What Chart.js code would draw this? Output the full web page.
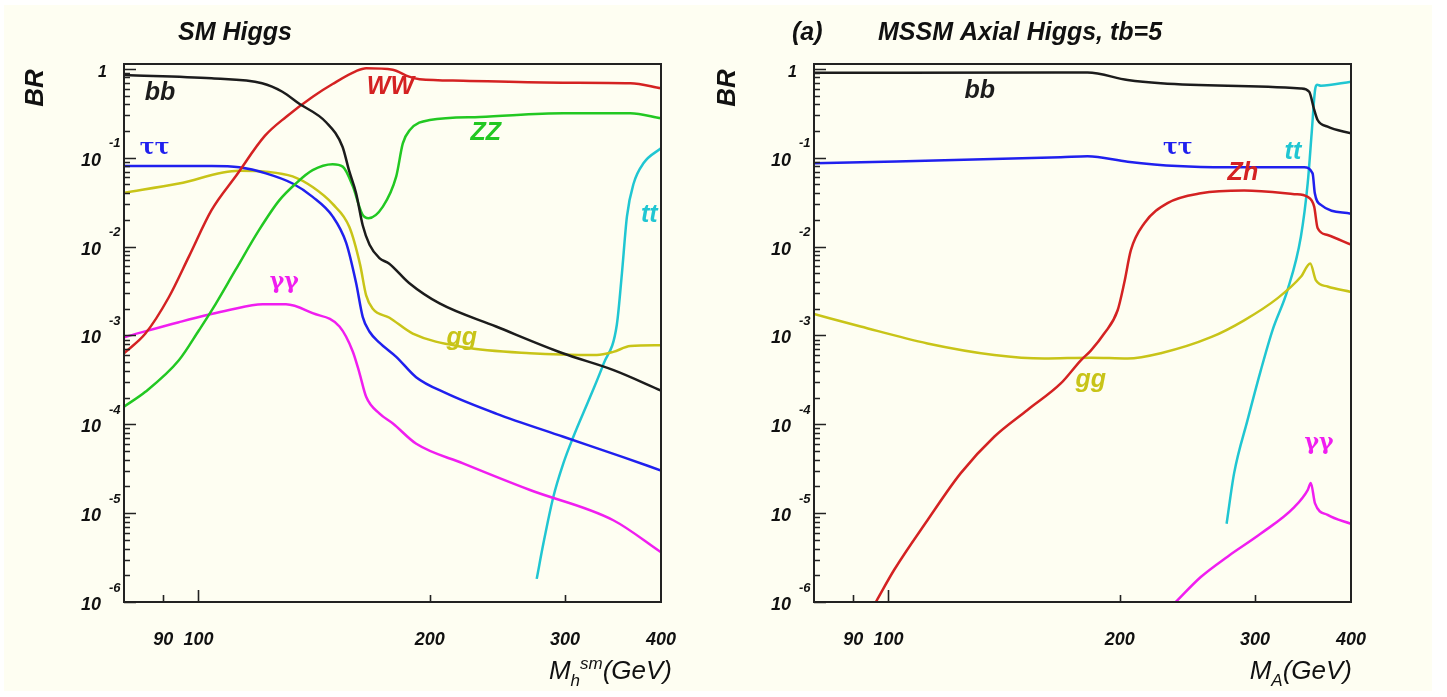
<!DOCTYPE html>
<html>
<head>
<meta charset="utf-8">
<title>Higgs branching ratios</title>
<script src="https://cdn.jsdelivr.net/npm/chart.js@4.4.1/dist/chart.umd.min.js"></script>
<style>
  html, body { margin: 0; padding: 0; background: #ffffff; }
  #page { position: relative; width: 1447px; height: 697px; overflow: hidden; }
  #paper { position: absolute; left: 4px; top: 5px; width: 1428px; height: 686px; background: #fefef2; }
  .panel { position: absolute; top: 0; height: 697px; }
  #sm-wrap { left: 0; width: 720px; }
  #mssm-wrap { left: 700px; width: 747px; }
</style>
</head>
<body>
<div id="page">
  <div id="paper"></div>
  <div class="panel" id="sm-wrap"><canvas id="sm-chart"></canvas></div>
  <div class="panel" id="mssm-wrap"><canvas id="mssm-chart"></canvas></div>
</div>

<script>
// ---- axis ticks ----
const massMin = 80;
const massMax = 400;
const brMin = 1e-6;
const brMax = 1.135;
const xTickValues = [90, 100, 200, 300, 400];
const xTickLabels = ['90', '100', '200', '300', '400'];
const yDecades = [0, -1, -2, -3, -4, -5, -6];

// ---- SM Higgs (left panel), mass in GeV, BR ----
const smBbMass = [80, 104, 121, 128.6, 135, 146.6, 154, 157, 160.4, 163.6, 167, 172, 177, 188, 206, 244, 298, 347, 400];
const smBb = [0.853, 0.783, 0.689, 0.553, 0.41, 0.251, 0.133, 0.0724, 0.0398, 0.0174, 0.0105, 0.00741, 0.00646, 0.00389, 0.00229, 0.00126, 0.00063, 0.000407, 0.00024];

const smWwMass = [80, 85.3, 91.5, 97.2, 104, 112, 122, 130, 141, 149.5, 160.4, 165.3, 179, 188, 194, 221, 298, 365, 400];
const smWw = [0.000631, 0.00105, 0.00269, 0.00776, 0.0257, 0.0631, 0.176, 0.288, 0.49, 0.676, 0.944, 1.016, 0.977, 0.817, 0.764, 0.736, 0.70, 0.689, 0.605];

const smZzMass = [80, 85.3, 94.3, 100.2, 104.2, 111.8, 120, 127.4, 133.9, 140.8, 149.5, 154.1, 158.8, 163.3, 166.5, 173.8, 180.9, 184.5, 188.3, 200, 232.3, 298.5, 364.8, 400];
const smZz = [0.000158, 0.000232, 0.000525, 0.00115, 0.00195, 0.0055, 0.0155, 0.0331, 0.0513, 0.0724, 0.0843, 0.0794, 0.0479, 0.0234, 0.0209, 0.0282, 0.0617, 0.145, 0.204, 0.266, 0.288, 0.316, 0.316, 0.278];

const smTauMass = [80, 104, 113, 122.4, 132.6, 140.8, 149.5, 155.7, 160.4, 163.6, 167, 172, 180.9, 192, 210, 244, 298.5, 357, 400];
const smTau = [0.0807, 0.0807, 0.078, 0.0667, 0.0513, 0.0363, 0.0219, 0.011, 0.00389, 0.00162, 0.0011, 0.00083, 0.000575, 0.000339, 0.000224, 0.000132, 0.0000724, 0.0000427, 0.0000302];

const smGgMass = [80, 94.3, 112.9, 122.4, 132.6, 140.8, 149.5, 157.2, 162.3, 165.3, 168.6, 177.3, 190.1, 221, 270.1, 330, 346.7, 364.8, 400];
const smGg = [0.0404, 0.0513, 0.0714, 0.0697, 0.0617, 0.0468, 0.0302, 0.0166, 0.00631, 0.00282, 0.002, 0.00158, 0.00105, 0.000741, 0.000631, 0.000603, 0.000653, 0.000759, 0.000776];

const smGamMass = [80, 94.3, 109.6, 121.2, 130, 140.8, 152.6, 158.8, 162, 165.3, 172.1, 179.1, 192.1, 221, 270.1, 346.7, 400];
const smGam = [0.000955, 0.00141, 0.00193, 0.00224, 0.00224, 0.00178, 0.00126, 0.000661, 0.00038, 0.000204, 0.000132, 0.000102, 0.0000603, 0.0000363, 0.0000182, 0.00000832, 0.00000363];

const smTopMass = [275.6, 281.2, 289.6, 298.5, 307.6, 323.5, 336.7, 350.4, 355.8, 361.2, 368.5, 379.7, 400];
const smTop = [0.00000182, 0.00000457, 0.0000151, 0.0000363, 0.0000724, 0.000204, 0.000479, 0.00132, 0.00501, 0.0219, 0.0513, 0.0871, 0.128];

// ---- MSSM axial Higgs, tan(beta)=5 (right panel) ----
const aBbMass = [80, 167.6, 181.6, 204.8, 226.2, 276.3, 344.2, 352.9, 358.2, 361.9, 372.9, 400];
const aBb = [0.902, 0.908, 0.908, 0.75, 0.689, 0.646, 0.603, 0.553, 0.347, 0.266, 0.224, 0.188];

const aTauMass = [80, 167.6, 181.6, 204.8, 237.8, 276.3, 347.6, 356.5, 358.9, 365.5, 400];
const aTau = [0.0865, 0.101, 0.104, 0.0902, 0.0805, 0.078, 0.078, 0.0667, 0.0398, 0.0295, 0.0234];

const aZhMass = [96.3, 101.7, 112.4, 124.2, 137.3, 151.7, 167.6, 178, 183.4, 190.9, 198.7, 202.7, 206.8, 215.2, 230.8, 255, 290.4, 337.5, 351.3, 358.2, 361.9, 372.9, 400];
const aZh = [0.000001, 0.00000229, 0.00000832, 0.0000282, 0.0000724, 0.000145, 0.000288, 0.000525, 0.000676, 0.00105, 0.00191, 0.00389, 0.00912, 0.0182, 0.0309, 0.0398, 0.0427, 0.0389, 0.0363, 0.0282, 0.0162, 0.0135, 0.0105];

const aGgMass = [80, 92, 112.4, 137.3, 159.5, 183.4, 204.8, 226.2, 262.9, 290.4, 321.1, 344.2, 354, 360.1, 372.9, 400];
const aGg = [0.00174, 0.00126, 0.000813, 0.000603, 0.00055, 0.000562, 0.00055, 0.000631, 0.000955, 0.00148, 0.00263, 0.00457, 0.00646, 0.00417, 0.00355, 0.00309];

const aTopMass = [275.5, 281.8, 293.4, 305.3, 316.2, 330.7, 344.2, 351.3, 355.5, 359.1, 361.3, 365.5, 400];
const aTop = [0.00000759, 0.0000282, 0.000112, 0.000407, 0.00115, 0.00324, 0.0129, 0.0513, 0.188, 0.575, 0.661, 0.646, 0.718];

const aGamMass = [236.6, 255, 276.3, 305.3, 337.5, 351.3, 354.6, 359.1, 372.9, 400];
const aGam = [0.000001, 0.00000191, 0.00000324, 0.00000589, 0.0000117, 0.0000182, 0.0000219, 0.0000129, 0.00000955, 0.00000759];

// line colours
const colors = {
  bb: '#1c1c1c',
  ww: '#d42222',
  zz: '#22c822',
  tau: '#2020ee',
  gg: '#c8c418',
  gam: '#f01ef0',
  top: '#20c6d2'
};

const labelFont = 'italic bold 25px "Liberation Sans", Arial, sans-serif';
const greekFont = 'bold 22px "DejaVu Serif", serif';

function series(mass, br, color) {
  return {
    data: mass.map(function(m, i) { return { x: m, y: br[i] }; }),
    borderColor: color,
    borderWidth: 2.5,
    pointRadius: 0,
    fill: false,
    cubicInterpolationMode: 'monotone'
  };
}

// draws frame, inward ticks, tick labels, titles and curve labels
function makeDecor(panel) {
  return {
    id: 'higgsDecor',
    afterDatasetsDraw: function(chart) {
      const ctx = chart.ctx;
      const a = chart.chartArea;
      const xs = chart.scales.x;
      const ys = chart.scales.y;
      ctx.save();

      // frame
      ctx.strokeStyle = '#222';
      ctx.lineWidth = 2;
      ctx.strokeRect(a.left, a.top, a.right - a.left, a.bottom - a.top);

      // y ticks (1..9 x 10^n), pointing into the plot
      ctx.lineWidth = 1.6;
      ctx.beginPath();
      yDecades.forEach(function(n) {
        for (let m = 1; m <= 9; m++) {
          const v = m * Math.pow(10, n);
          if (v < brMin || v > brMax) continue;
          const py = Math.round(ys.getPixelForValue(v)) + 0.5;
          ctx.moveTo(a.left, py);
          ctx.lineTo(a.left + (m === 1 ? 12 : 6), py);
        }
      });
      // x ticks, pointing up
      xTickValues.forEach(function(v) {
        if (v >= massMax) return;
        const px = Math.round(xs.getPixelForValue(v)) + 0.5;
        ctx.moveTo(px, a.bottom);
        ctx.lineTo(px, a.bottom - (v === 100 ? 12 : 7));
      });
      ctx.stroke();

      // y tick labels
      ctx.fillStyle = '#111';
      yDecades.forEach(function(n) {
        const py = ys.getPixelForValue(Math.pow(10, n));
        if (n === 0) {
          ctx.font = 'italic bold 16px "Liberation Sans", Arial, sans-serif';
          ctx.textAlign = 'right';
          ctx.textBaseline = 'middle';
          ctx.fillText('1', a.left - 17, py + 4);
          return;
        }
        ctx.font = 'italic bold 18px "Liberation Sans", Arial, sans-serif';
        ctx.textAlign = 'right';
        ctx.textBaseline = 'middle';
        ctx.fillText('10', a.left - 23, py + 3);
        ctx.font = 'italic bold 13px "Liberation Sans", Arial, sans-serif';
        ctx.textAlign = 'left';
        ctx.fillText(String(n), a.left - 15, py - 14);
      });

      // x tick labels
      ctx.font = 'italic bold 18px "Liberation Sans", Arial, sans-serif';
      ctx.textAlign = 'center';
      ctx.textBaseline = 'middle';
      xTickValues.forEach(function(v, i) {
        ctx.fillText(xTickLabels[i], xs.getPixelForValue(v), a.bottom + 38);
      });

      // x axis title, right aligned, with sub/superscripts
      const parts = panel.xTitle;
      let width = 0;
      parts.forEach(function(p) { ctx.font = p.font; width += ctx.measureText(p.text).width; });
      let x = panel.xTitleRight - width;
      ctx.textAlign = 'left';
      ctx.textBaseline = 'alphabetic';
      parts.forEach(function(p) {
        ctx.font = p.font;
        ctx.fillText(p.text, x, 679 + p.dy);
        x += ctx.measureText(p.text).width;
      });

      // "BR" rotated
      ctx.save();
      ctx.translate(panel.brX, 88);
      ctx.rotate(-Math.PI / 2);
      ctx.font = 'italic bold 26px "Liberation Sans", Arial, sans-serif';
      ctx.textAlign = 'center';
      ctx.textBaseline = 'middle';
      ctx.fillText('BR', 0, 0);
      ctx.restore();

      // panel title
      ctx.font = 'italic bold 25px "Liberation Sans", Arial, sans-serif';
      ctx.textAlign = 'left';
      ctx.textBaseline = 'alphabetic';
      panel.titles.forEach(function(t) { ctx.fillText(t.text, t.x, 40); });

      // curve labels at data coordinates
      ctx.textAlign = 'center';
      ctx.textBaseline = 'middle';
      panel.labels.forEach(function(l) {
        ctx.font = l.greek ? greekFont : labelFont;
        ctx.fillStyle = l.color;
        ctx.fillText(l.text, xs.getPixelForValue(l.x), ys.getPixelForValue(l.y));
      });
      ctx.restore();
    }
  };
}

function makeChart(canvasId, datasets, padding, panel) {
  return new Chart(document.getElementById(canvasId), {
    type: 'line',
    data: { datasets: datasets },
    options: {
      responsive: true,
      maintainAspectRatio: false,
      animation: false,
      layout: { padding: padding },
      plugins: { legend: { display: false }, tooltip: { enabled: false } },
      scales: {
        x: { type: 'logarithmic', min: massMin, max: massMax, display: false },
        y: { type: 'logarithmic', min: brMin, max: brMax, display: false }
      }
    },
    plugins: [makeDecor(panel)]
  });
}

const titleFont = 'italic 26px "Liberation Sans", Arial, sans-serif';
const subFont = 'italic 17px "Liberation Sans", Arial, sans-serif';

makeChart('sm-chart', [
  series(smBbMass, smBb, colors.bb),
  series(smWwMass, smWw, colors.ww),
  series(smZzMass, smZz, colors.zz),
  series(smTauMass, smTau, colors.tau),
  series(smGgMass, smGg, colors.gg),
  series(smGamMass, smGam, colors.gam),
  series(smTopMass, smTop, colors.top)
], { left: 124, top: 64, right: 59, bottom: 95 }, {
  brX: 36,
  xTitleRight: 672,
  xTitle: [
    { text: 'M', font: titleFont, dy: 0 },
    { text: 'h', font: subFont, dy: 7 },
    { text: 'sm', font: subFont, dy: -10 },
    { text: '(GeV)', font: titleFont, dy: 0 }
  ],
  titles: [{ text: 'SM Higgs', x: 178 }],
  labels: [
    { text: 'bb', x: 89.1, y: 0.535, color: colors.bb },
    { text: '\u03c4\u03c4', x: 87.7, y: 0.129, color: colors.tau, greek: true },
    { text: 'WW', x: 177.8, y: 0.625, color: colors.ww },
    { text: 'ZZ', x: 236.6, y: 0.19, color: colors.zz },
    { text: 'tt', x: 386.3, y: 0.0226, color: colors.top },
    { text: 'gg', x: 220.2, y: 0.000933, color: colors.gg },
    { text: '\u03b3\u03b3', x: 129.3, y: 0.00398, color: colors.gam, greek: true }
  ]
});

makeChart('mssm-chart', [
  series(aBbMass, aBb, colors.bb),
  series(aTauMass, aTau, colors.tau),
  series(aZhMass, aZh, colors.ww),
  series(aGgMass, aGg, colors.gg),
  series(aGamMass, aGam, colors.gam),
  series(aTopMass, aTop, colors.top)
], { left: 114, top: 64, right: 96, bottom: 95 }, {
  brX: 28,
  xTitleRight: 652,
  xTitle: [
    { text: 'M', font: titleFont, dy: 0 },
    { text: 'A', font: subFont, dy: 7 },
    { text: '(GeV)', font: titleFont, dy: 0 }
  ],
  titles: [{ text: '(a)', x: 92 }, { text: 'MSSM Axial Higgs, tb=5', x: 178 }],
  labels: [
    { text: 'bb', x: 131.5, y: 0.564, color: colors.bb },
    { text: '\u03c4\u03c4', x: 238, y: 0.129, color: colors.tau, greek: true },
    { text: 'tt', x: 336.1, y: 0.116, color: colors.top },
    { text: 'Zh', x: 289.3, y: 0.0673, color: colors.ww },
    { text: 'gg', x: 183.4, y: 0.000316, color: colors.gg },
    { text: '\u03b3\u03b3', x: 363.4, y: 0.0000617, color: colors.gam, greek: true }
  ]
});
</script>
</body>
</html>
